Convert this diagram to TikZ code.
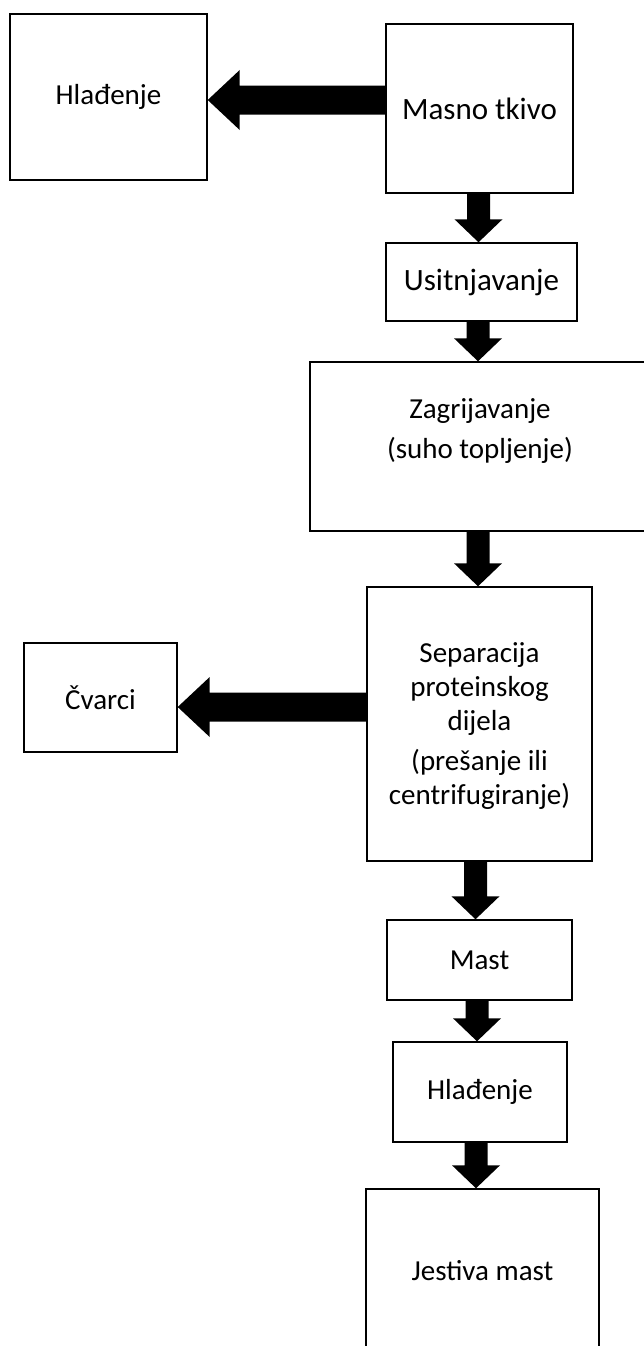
\documentclass[tikz,border=0pt]{standalone}
\usepackage{fontspec}
\setmainfont{Carlito}
\usetikzlibrary{calc}
\tikzset{
  box/.style={draw=black, line width=1.4pt, fill=white, inner sep=0pt, align=center,
    font=\fontsize{29}{34}\selectfont},
  bigtext/.style={font=\fontsize{31}{36}\selectfont},
  lbl/.style={inner sep=0pt, font=\fontsize{29}{34}\selectfont},
}
\newcommand\fatdown[3]{% #1 x, #2 from node, #3 to node
  \fill[black] let \p1=(#2.south), \p2=(#3.north) in
   ({#1-11.5pt},\y1) -- ({#1+11.5pt},\y1) -- ({#1+11.5pt},\y2+23pt) --
   ({#1+24pt},\y2+23pt) -- (#1,\y2) -- ({#1-24pt},\y2+23pt) --
   ({#1-11.5pt},\y2+23pt) -- cycle;}
\newcommand\fatleft[3]{% #1 y, #2 from node, #3 to node
  \fill[black] let \p1=(#2.west), \p2=(#3.east) in
   (\x1,{#1+14.5pt}) -- (\x2+32pt,{#1+14.5pt}) -- (\x2+32pt,{#1+30pt}) --
   (\x2,#1) -- (\x2+32pt,{#1-30pt}) -- (\x2+32pt,{#1-14.5pt}) --
   (\x1,{#1-14.5pt}) -- cycle;}
\begin{document}
\begin{tikzpicture}[x=1pt,y=-1pt]
\fill[white] (0,0) rectangle (643,1346);
\useasboundingbox (0,0) rectangle (643,1346);

\node[box, minimum width=197pt, minimum height=166pt] (h1) at (108.5,97) {Hlađenje};
\node[box, bigtext, minimum width=187pt, minimum height=169pt] (masno) at (479.5,108.5) {Masno tkivo};
\node[box, bigtext, minimum width=191pt, minimum height=78pt] (usit) at (481.5,282) {Usitnjavanje};
\node[box, minimum width=340pt, minimum height=169pt] (zag) at (480,446.5) {};
\node[lbl, anchor=base] (zagA) at (480,418) {Zagrijavanje};
\node[lbl, anchor=base] (zagB) at (480,458) {(suho topljenje)};
\node[box, minimum width=225pt, minimum height=274pt] (sep) at (479.5,724) {};
\node[lbl, anchor=base] (sepA) at (479.5,662) {Separacija};
\node[lbl, anchor=base] (sepB) at (479.5,696) {proteinskog};
\node[lbl, anchor=base] (sepC) at (479.5,730) {dijela};
\node[lbl, anchor=base] (sepD) at (479.5,770) {(prešanje ili};
\node[lbl, anchor=base] (sepE) at (479.5,804) {centrifugiranje)};
\node[box, minimum width=153pt, minimum height=109pt] (cvarci) at (100.5,697.5) {Čvarci};
\node[box, minimum width=185pt, minimum height=80pt] (mast) at (479.5,960) {Mast};
\node[box, minimum width=174pt, minimum height=100pt] (h2) at (480,1092) {Hlađenje};
\node[box, minimum width=233pt, minimum height=163pt] (jest) at (482.5,1270.5) {Jestiva mast};

\fatleft{-100pt}{masno}{h1}
\fatleft{-707pt}{sep}{cvarci}
\fatdown{478.5pt}{masno}{usit}
\fatdown{478pt}{usit}{zag}
\fatdown{478pt}{zag}{sep}
\fatdown{475.5pt}{sep}{mast}
\fatdown{477pt}{mast}{h2}
\fatdown{476pt}{h2}{jest}
\end{tikzpicture}
\end{document}
